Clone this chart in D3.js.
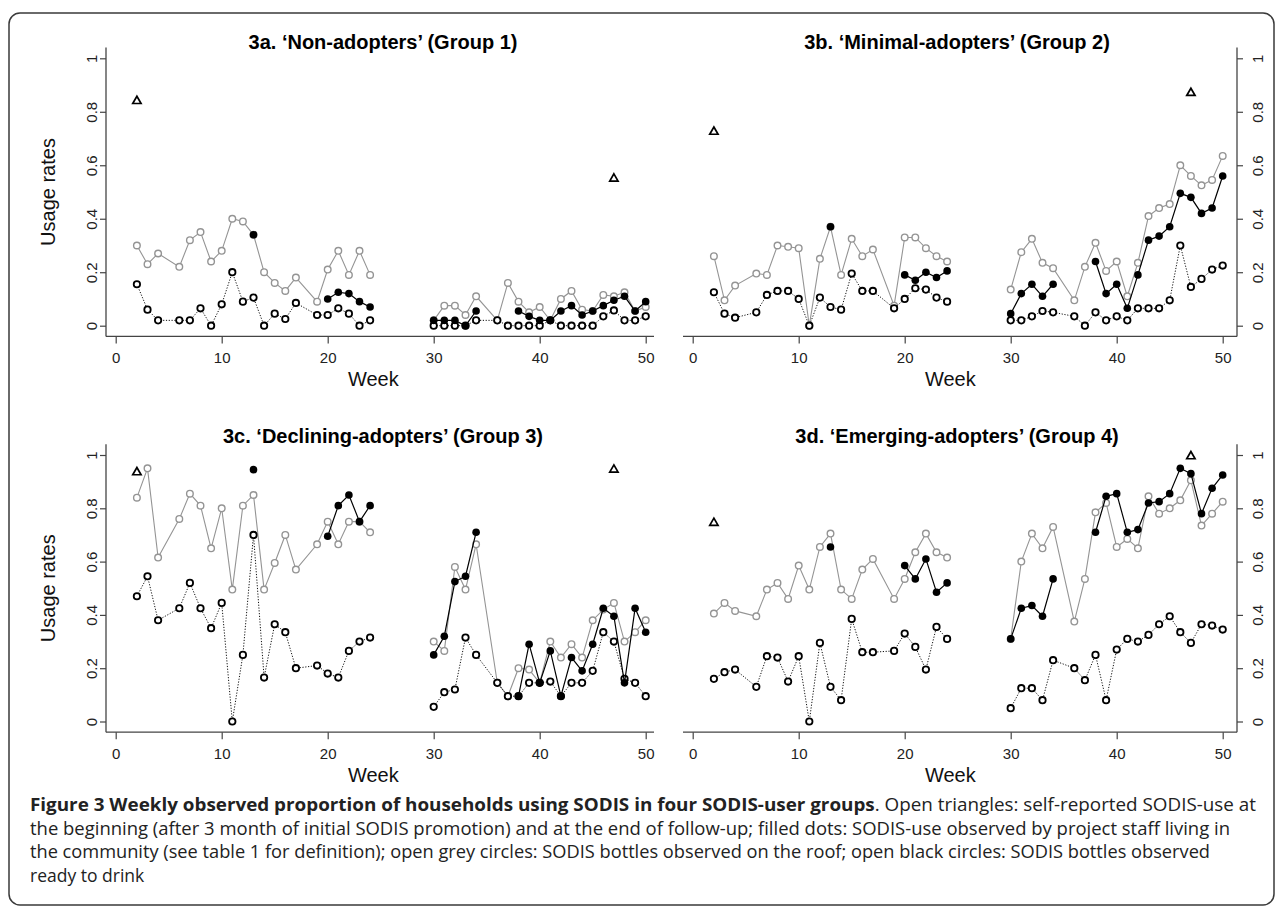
<!DOCTYPE html>
<html>
<head>
<meta charset="utf-8">
<script src="https://cdn.jsdelivr.net/npm/d3@7"></script>
<style>
  body { margin: 0; background: #fff; }
  svg { display: block; }
</style>
</head>
<body>
<div id="chart"></div>
<script>
// weeks with observations (no visits in weeks 1, 5, 18, 25-29, 35)
const weeks = [2, 3, 4, 6, 7, 8, 9, 10, 11, 12, 13, 14, 15, 16, 17, 19, 20, 21, 22, 23, 24,
  30, 31, 32, 33, 34, 36, 37, 38, 39, 40, 41, 42, 43, 44, 45, 46, 47, 48, 49, 50]

const xTicks = [0, 10, 20, 30, 40, 50]
const yTicks = [0, 0.2, 0.4, 0.6, 0.8, 1]
const yTickLabels = ["0", "0.2", "0.4", "0.6", "0.8", "1"]

const titles = [
  "3a. \u2018Non-adopters\u2019 (Group 1)",
  "3b. \u2018Minimal-adopters\u2019 (Group 2)",
  "3c. \u2018Declining-adopters\u2019 (Group 3)",
  "3d. \u2018Emerging-adopters\u2019 (Group 4)"
]

// open grey circles: bottles on the roof
const roofG1 = [0.30, 0.23, 0.27, 0.22, 0.32, 0.35, 0.24, 0.28, 0.40, 0.39, 0.34, 0.20, 0.16, 0.13, 0.18, 0.09, 0.21, 0.28, 0.19, 0.28, 0.19,
  0.02, 0.075, 0.075, 0.04, 0.11, 0.02, 0.16, 0.09, 0.05, 0.07, 0.02, 0.10, 0.13, 0.06, 0.055, 0.115, 0.11, 0.125, 0.055, 0.07]
const roofG2 = [0.26, 0.095, 0.15, 0.195, 0.19, 0.30, 0.295, 0.29, 0.0, 0.25, 0.37, 0.19, 0.325, 0.26, 0.285, 0.075, 0.33, 0.33, 0.29, 0.26, 0.24,
  0.135, 0.275, 0.325, 0.235, 0.215, 0.095, 0.22, 0.31, 0.205, 0.24, 0.11, 0.235, 0.41, 0.44, 0.455, 0.60, 0.56, 0.525, 0.545, 0.635]
const roofG3 = [0.84, 0.95, 0.615, 0.76, 0.855, 0.81, 0.65, 0.80, 0.495, 0.81, 0.85, 0.495, 0.595, 0.70, 0.57, 0.665, 0.75, 0.665, 0.75, 0.75, 0.71,
  0.30, 0.265, 0.58, 0.495, 0.665, 0.145, 0.095, 0.20, 0.195, 0.145, 0.30, 0.24, 0.29, 0.24, 0.38, 0.42, 0.445, 0.30, 0.335, 0.38]
const roofG4 = [0.405, 0.445, 0.415, 0.395, 0.495, 0.52, 0.46, 0.585, 0.495, 0.655, 0.705, 0.495, 0.46, 0.57, 0.61, 0.46, 0.535, 0.635, 0.705, 0.635, 0.615,
  0.31, 0.60, 0.705, 0.65, 0.73, 0.375, 0.535, 0.785, 0.82, 0.655, 0.685, 0.65, 0.845, 0.78, 0.80, 0.83, 0.905, 0.735, 0.78, 0.825]

// filled dots: use observed by project staff (null = not observed)
const staffG1 = [null, null, null, null, null, null, null, null, null, null, 0.34, null, null, null, null, null, 0.10, 0.125, 0.12, 0.09, 0.07,
  0.02, 0.02, 0.02, 0.0, 0.055, null, null, 0.055, 0.035, 0.02, 0.02, 0.055, 0.075, 0.04, 0.055, 0.075, 0.095, 0.11, 0.055, 0.09]
const staffG2 = [null, null, null, null, null, null, null, null, null, null, 0.37, null, null, null, null, null, 0.19, 0.17, 0.20, 0.18, 0.205,
  0.045, 0.12, 0.155, 0.11, 0.155, null, null, 0.24, 0.12, 0.155, 0.065, 0.19, 0.32, 0.335, 0.37, 0.495, 0.48, 0.42, 0.44, 0.56]
const staffG3 = [null, null, null, null, null, null, null, null, null, null, 0.945, null, null, null, null, null, 0.695, 0.81, 0.85, 0.75, 0.81,
  0.25, 0.32, 0.525, 0.545, 0.71, null, null, 0.095, 0.29, 0.145, 0.265, 0.095, 0.24, 0.19, 0.29, 0.425, 0.395, 0.145, 0.425, 0.335]
const staffG4 = [null, null, null, null, null, null, null, null, null, null, 0.655, null, null, null, null, null, 0.585, 0.535, 0.61, 0.485, 0.52,
  0.31, 0.425, 0.435, 0.395, 0.535, null, null, 0.71, 0.845, 0.855, 0.71, 0.72, 0.82, 0.825, 0.855, 0.95, 0.93, 0.78, 0.875, 0.925]

// open black circles: bottles ready to drink
const readyG1 = [0.155, 0.06, 0.02, 0.02, 0.02, 0.065, 0.0, 0.08, 0.20, 0.09, 0.105, 0.0, 0.045, 0.025, 0.085, 0.04, 0.04, 0.065, 0.045, 0.0, 0.02,
  0.0, 0.0, 0.0, 0.0, 0.02, 0.02, 0.0, 0.0, 0.0, 0.0, 0.02, 0.0, 0.0, 0.0, 0.0, 0.035, 0.057, 0.02, 0.02, 0.035]
const readyG2 = [0.125, 0.045, 0.03, 0.05, 0.115, 0.13, 0.13, 0.10, 0.0, 0.105, 0.07, 0.06, 0.195, 0.13, 0.13, 0.065, 0.10, 0.14, 0.135, 0.105, 0.09,
  0.02, 0.02, 0.035, 0.055, 0.05, 0.035, 0.0, 0.05, 0.02, 0.035, 0.02, 0.065, 0.065, 0.065, 0.095, 0.30, 0.145, 0.175, 0.21, 0.225]
const readyG3 = [0.47, 0.545, 0.38, 0.425, 0.52, 0.425, 0.35, 0.445, 0.0, 0.25, 0.70, 0.165, 0.365, 0.335, 0.20, 0.21, 0.18, 0.165, 0.265, 0.30, 0.315,
  0.055, 0.11, 0.12, 0.315, 0.25, 0.145, 0.095, 0.095, 0.145, 0.145, 0.15, 0.095, 0.145, 0.145, 0.19, 0.335, 0.30, 0.16, 0.145, 0.095]
const readyG4 = [0.16, 0.185, 0.195, 0.13, 0.245, 0.24, 0.15, 0.245, 0.0, 0.295, 0.13, 0.08, 0.385, 0.26, 0.26, 0.265, 0.33, 0.28, 0.195, 0.355, 0.31,
  0.05, 0.125, 0.125, 0.08, 0.23, 0.20, 0.155, 0.25, 0.08, 0.27, 0.31, 0.30, 0.325, 0.365, 0.395, 0.335, 0.295, 0.365, 0.36, 0.345]

// open triangles: self-reported use, start and end of follow-up
const selfWeeks = [2, 47]
const selfG1 = [0.84, 0.55]
const selfG2 = [0.725, 0.87]
const selfG3 = [0.935, 0.945]
const selfG4 = [0.745, 0.995]

const captionLines = [
  [{ text: "Figure 3 Weekly observed proportion of households using SODIS in four SODIS-user groups", bold: true },
   { text: ". Open triangles: self-reported SODIS-use at", bold: false }],
  [{ text: "the beginning (after 3 month of initial SODIS promotion) and at the end of follow-up; filled dots: SODIS-use observed by project staff living in", bold: false }],
  [{ text: "the community (see table 1 for definition); open grey circles: SODIS bottles observed on the roof; open black circles: SODIS bottles observed", bold: false }],
  [{ text: "ready to drink", bold: false }]
]
const captionWidths = [1226, 1200, 1180, null]

const width = 1282
const height = 908
const grey = "#949494"
const axisFont = "'Liberation Sans', Arial, sans-serif"

const svg = d3.select("#chart")
    .append("svg")
    .attr("width", width)
    .attr("height", height)

svg.append("rect")
    .attr("x", 9)
    .attr("y", 13)
    .attr("width", 1265)
    .attr("height", 892)
    .attr("rx", 11)
    .attr("fill", "none")
    .attr("stroke", "#3a3a3a")
    .attr("stroke-width", 1.5)

// layout of the four panels
const columns = [
  { x0: 115.7, x50: 645.7, left: 106, right: 654, side: "left", titleX: 383 },
  { x0: 692.7, x50: 1222.7, left: 683, right: 1237, side: "right", titleX: 957 }
]
const rows = [
  { y0: 325.7, y1: 58.3, titleY: 49, weekY: 386 },
  { y0: 721.5, y1: 455, titleY: 443, weekY: 782 }
]

const panels = [
  { title: titles[0], roof: roofG1, staff: staffG1, ready: readyG1, self: selfG1, col: 0, row: 0 },
  { title: titles[1], roof: roofG2, staff: staffG2, ready: readyG2, self: selfG2, col: 1, row: 0 },
  { title: titles[2], roof: roofG3, staff: staffG3, ready: readyG3, self: selfG3, col: 0, row: 1 },
  { title: titles[3], roof: roofG4, staff: staffG4, ready: readyG4, self: selfG4, col: 1, row: 1 }
]

// turn a series into points, putting a break where the follow-up paused
function toPoints(values) {
  const pts = []
  weeks.forEach((w, i) => {
    if (i > 0 && w - weeks[i - 1] > 3) pts.push({ week: (w + weeks[i - 1]) / 2, value: null })
    pts.push({ week: w, value: values[i] })
  })
  return pts
}

panels.forEach(p => {
  const col = columns[p.col]
  const row = rows[p.row]

  const x = d3.scaleLinear().domain([0, 50]).range([col.x0, col.x50])
  const y = d3.scaleLinear().domain([0, 1]).range([row.y0, row.y1])
  const yBottom = y(-0.04)
  const yTop = y(1.04)

  const g = svg.append("g")

  // axis frame lines
  const axisX = col.side === "left" ? col.left : col.right
  g.append("line")
      .attr("x1", col.left).attr("x2", col.right)
      .attr("y1", yBottom).attr("y2", yBottom)
      .attr("stroke", "#444").attr("stroke-width", 1.3)
  g.append("line")
      .attr("x1", axisX).attr("x2", axisX)
      .attr("y1", yTop).attr("y2", yBottom)
      .attr("stroke", "#444").attr("stroke-width", 1.3)

  const xAxis = g.append("g")
      .attr("transform", `translate(0,${yBottom})`)
      .call(d3.axisBottom(x).tickValues(xTicks).tickSize(7).tickPadding(9))
  xAxis.select(".domain").remove()
  xAxis.selectAll("line").attr("stroke", "#444").attr("stroke-width", 1.2)
  xAxis.selectAll("text")
      .attr("fill", "#222")
      .style("font-family", axisFont)
      .style("font-size", "15px")

  const yAxisGen = col.side === "left" ? d3.axisLeft(y) : d3.axisRight(y)
  const yAxis = g.append("g")
      .attr("transform", `translate(${axisX},0)`)
      .call(yAxisGen.tickValues(yTicks).tickFormat((d, i) => yTickLabels[i]).tickSize(6))
  yAxis.select(".domain").remove()
  yAxis.selectAll("line").attr("stroke", "#444").attr("stroke-width", 1.2)
  yAxis.selectAll("text").remove()
  yAxis.selectAll(".tick")
      .append("text")
      .attr("transform", col.side === "left" ? "translate(-9,0) rotate(-90)" : "translate(26,0) rotate(-90)")
      .attr("text-anchor", "middle")
      .attr("fill", "#222")
      .style("font-family", axisFont)
      .style("font-size", "15px")
      .text((d, i) => yTickLabels[i])

  // titles and labels
  g.append("text")
      .attr("x", col.titleX)
      .attr("y", row.titleY)
      .attr("text-anchor", "middle")
      .style("font-family", axisFont)
      .style("font-weight", "bold")
      .style("font-size", "20px")
      .text(p.title)

  g.append("text")
      .attr("x", x(24.3))
      .attr("y", row.weekY)
      .attr("text-anchor", "middle")
      .style("font-family", axisFont)
      .style("font-size", "20px")
      .attr("fill", "#111")
      .text("Week")

  if (col.side === "left") {
    g.append("text")
        .attr("transform", `translate(55,${y(0.5)}) rotate(-90)`)
        .attr("text-anchor", "middle")
        .style("font-family", axisFont)
        .style("font-size", "20px")
        .attr("fill", "#111")
        .text("Usage rates")
  }

  const line = d3.line()
      .defined(d => d.value !== null)
      .x(d => x(d.week))
      .y(d => y(d.value))

  // roof: grey
  const roofPts = toPoints(p.roof)
  g.append("path")
      .attr("d", line(roofPts))
      .attr("fill", "none")
      .attr("stroke", grey)
      .attr("stroke-width", 1.1)
  g.selectAll(".roof")
      .data(roofPts.filter(d => d.value !== null))
      .join("circle")
      .attr("class", "roof")
      .attr("cx", d => x(d.week))
      .attr("cy", d => y(d.value))
      .attr("r", 3.3)
      .attr("fill", "#fff")
      .attr("stroke", grey)
      .attr("stroke-width", 1.4)

  // ready to drink: dotted black
  const readyPts = toPoints(p.ready)
  g.append("path")
      .attr("d", line(readyPts))
      .attr("fill", "none")
      .attr("stroke", "#111")
      .attr("stroke-width", 1)
      .attr("stroke-dasharray", "1.2,1.6")
  g.selectAll(".ready")
      .data(readyPts.filter(d => d.value !== null))
      .join("circle")
      .attr("class", "ready")
      .attr("cx", d => x(d.week))
      .attr("cy", d => y(d.value))
      .attr("r", 3.2)
      .attr("fill", "#fff")
      .attr("stroke", "#000")
      .attr("stroke-width", 1.8)

  // staff observation: filled dots
  const staffPts = toPoints(p.staff)
  g.append("path")
      .attr("d", line(staffPts))
      .attr("fill", "none")
      .attr("stroke", "#000")
      .attr("stroke-width", 1.2)
  g.selectAll(".staff")
      .data(staffPts.filter(d => d.value !== null))
      .join("circle")
      .attr("class", "staff")
      .attr("cx", d => x(d.week))
      .attr("cy", d => y(d.value))
      .attr("r", 3.8)
      .attr("fill", "#000")

  // self-reported: open triangles
  g.selectAll(".self")
      .data(selfWeeks.map((w, i) => ({ week: w, value: p.self[i] })))
      .join("path")
      .attr("class", "self")
      .attr("d", d3.symbol(d3.symbolTriangle, 30))
      .attr("transform", d => `translate(${x(d.week)},${y(d.value)})`)
      .attr("fill", "none")
      .attr("stroke", "#000")
      .attr("stroke-width", 1.7)
})

// caption
const caption = svg.append("g")
    .style("font-family", "'Open Sans', sans-serif")
    .style("font-size", "17.5px")
    .attr("fill", "#222")

captionLines.forEach((parts, i) => {
  const t = caption.append("text")
      .attr("x", 30)
      .attr("y", 811 + i * 23.6)
  if (captionWidths[i]) {
    t.attr("textLength", captionWidths[i]).attr("lengthAdjust", "spacingAndGlyphs")
  }
  parts.forEach(part => {
    t.append("tspan")
        .style("font-weight", part.bold ? "bold" : "normal")
        .text(part.text)
  })
})
</script>
</body>
</html>
